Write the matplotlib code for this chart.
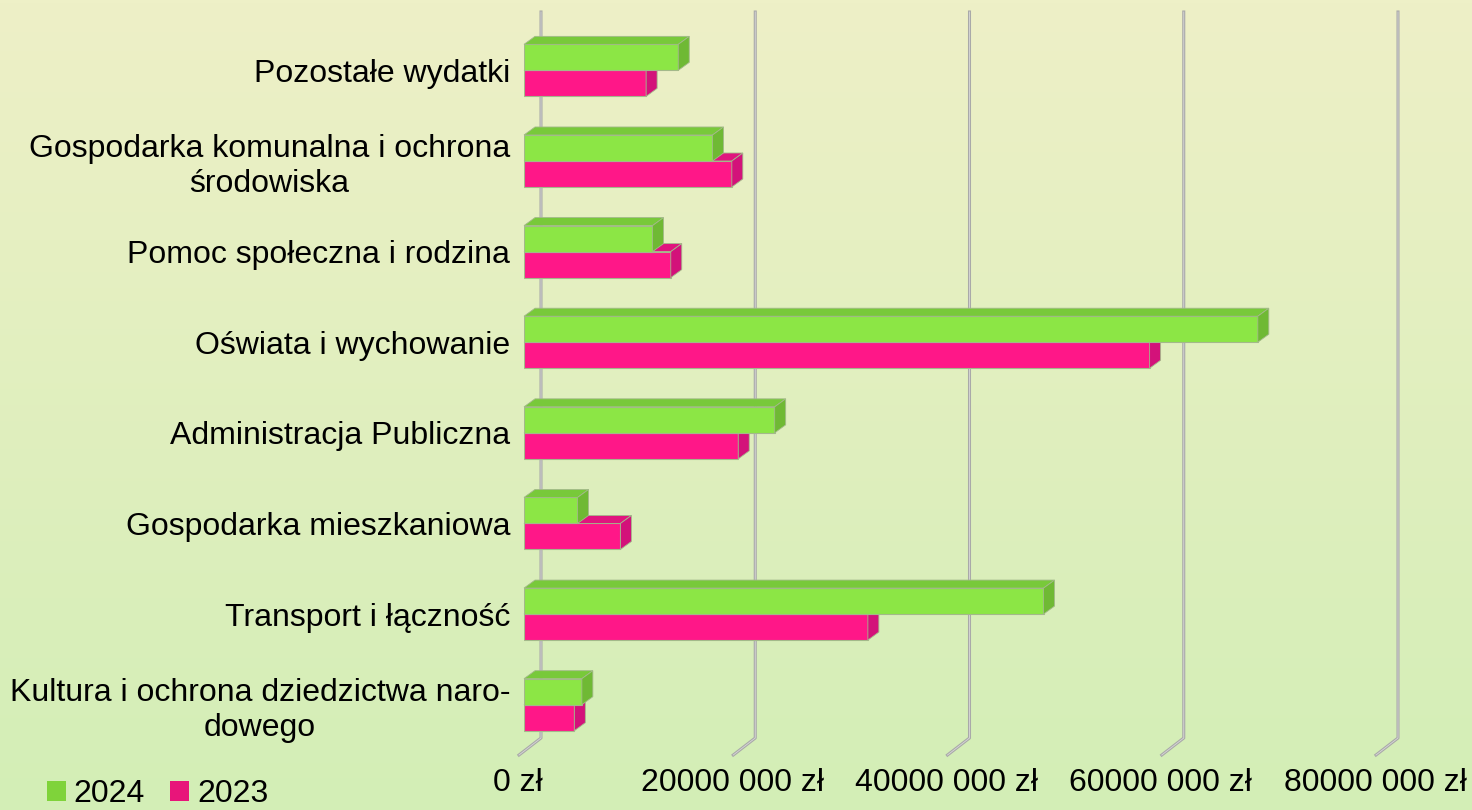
import numpy as np
import matplotlib.pyplot as plt
from matplotlib.patches import Polygon, Patch
from matplotlib.lines import Line2D
from matplotlib.transforms import IdentityTransform, ScaledTranslation

plt.rcParams['font.family'] = ['Liberation Sans', 'DejaVu Sans']

categories = [
    'Kultura i ochrona dziedzictwa naro-\ndowego',
    'Transport i łączność',
    'Gospodarka mieszkaniowa',
    'Administracja Publiczna',
    'Oświata i wychowanie',
    'Pomoc społeczna i rodzina',
    'Gospodarka komunalna i ochrona\nśrodowiska',
    'Pozostałe wydatki',
]
values_2024 = [5.4e6, 48.5e6, 5.0e6, 23.4e6, 68.5e6, 12.0e6, 17.6e6, 14.4e6]
values_2023 = [4.7e6, 32.1e6, 9.0e6, 20.0e6, 58.4e6, 13.7e6, 19.4e6, 11.4e6]
xticks = [0, 20e6, 40e6, 60e6, 80e6]
xtick_labels = ['0 zł', '20000 000 zł', '40000 000 zł', '60000 000 zł', '80000 000 zł']

W, H = 1472, 810
fig = plt.figure(figsize=(W / 100, H / 100), dpi=100)

# background gradient
bg = fig.add_axes([0, 0, 1, 1], zorder=-10)
top = np.array([238, 240, 199]) / 255
bot = np.array([211, 238, 182]) / 255
t = np.linspace(0, 1, 256)[:, None]
grad = top[None, :] * (1 - t) + bot[None, :] * t
bg.imshow(grad[:, None, :], aspect='auto', extent=[0, 1, 0, 1])
bg.axis('off')

# main axes: front plane of the bars, in pixel layout
left, right, ax_top, ax_bot = 524, 1381, 16, 750
ax = fig.add_axes([left / W, 1 - ax_bot / H, (right - left) / W, (ax_bot - ax_top) / H])
ax.patch.set_alpha(0)
ax.set_xlim(0, 80e6)
ax.set_ylim(-0.5, 7.6)
for s in ax.spines.values():
    s.set_visible(False)

y = np.arange(len(categories))
bh = 0.287
green, green_top, green_side = '#8ce645', '#78c93a', '#6fb934'
pink, pink_top, pink_side = '#ff1788', '#e0157e', '#d3127a'
edge = '#a3b98a'
ddx, ddy = 11, 8  # bar depth in pixels

ax.set_xticks(xticks, xtick_labels, fontsize=23)
ax.set_yticks(y, categories, fontsize=23)
ax.tick_params(length=0, pad=10)
ax.tick_params(axis='x', pad=13)
# x labels sit under the floor front edge, a few pixels left of the bars' zero
shift = ScaledTranslation(-0.06, 0, fig.dpi_scale_trans)
for lab in ax.get_xticklabels():
    lab.set_transform(lab.get_transform() + shift)
for lab in ax.get_yticklabels():
    lab.set_multialignment('center')
    lab.set_linespacing(1.2)

# grid lines on the back wall and floor
ident = IdentityTransform()
for xv in xticks:
    fx, _ = ax.transData.transform((xv, 0))
    xs = [fx + 17, fx + 17, fx - 5]
    ys = [H - 12, H - 738, H - 755]
    ax.add_line(Line2D(xs, ys, transform=ident, color='#a9a9a9', lw=2.2,
                       clip_on=False, zorder=1))
    ax.add_line(Line2D(xs, ys, transform=ident, color='#d8d8d8', lw=0.6,
                       clip_on=False, zorder=1.1))


def bar3d(vals, offset, front, topc, side, z):
    ax.barh(y + offset, vals, height=bh, color=front, edgecolor=edge,
            linewidth=0.8, zorder=z)
    for yi, v in zip(y + offset, vals):
        x0, y1 = ax.transData.transform((0, yi + bh / 2))
        x1, y0 = ax.transData.transform((v, yi - bh / 2))
        topf = [(x0, y1), (x1, y1), (x1 + ddx, y1 + ddy), (x0 + ddx, y1 + ddy)]
        sidef = [(x1, y0), (x1, y1), (x1 + ddx, y1 + ddy), (x1 + ddx, y0 + ddy)]
        ax.add_patch(Polygon(topf, closed=True, transform=ident, facecolor=topc,
                             edgecolor=edge, lw=0.6, clip_on=False, zorder=z))
        ax.add_patch(Polygon(sidef, closed=True, transform=ident, facecolor=side,
                             edgecolor=edge, lw=0.6, clip_on=False, zorder=z))


bar3d(values_2023, -bh / 2, pink, pink_top, pink_side, 3)
bar3d(values_2024, bh / 2, green, green_top, green_side, 4)

handles = [Patch(facecolor='#7fd33a', label='2024'),
           Patch(facecolor='#e8157a', label='2023')]
fig.legend(handles=handles, loc='center left', bbox_to_anchor=(47 / W, 1 - 794 / H),
           ncol=2, frameon=False, fontsize=23, handlelength=0.58, handleheight=0.6,
           handletextpad=0.25, columnspacing=0.8, borderpad=0, borderaxespad=0)

fig.savefig('out.png', dpi=100)
